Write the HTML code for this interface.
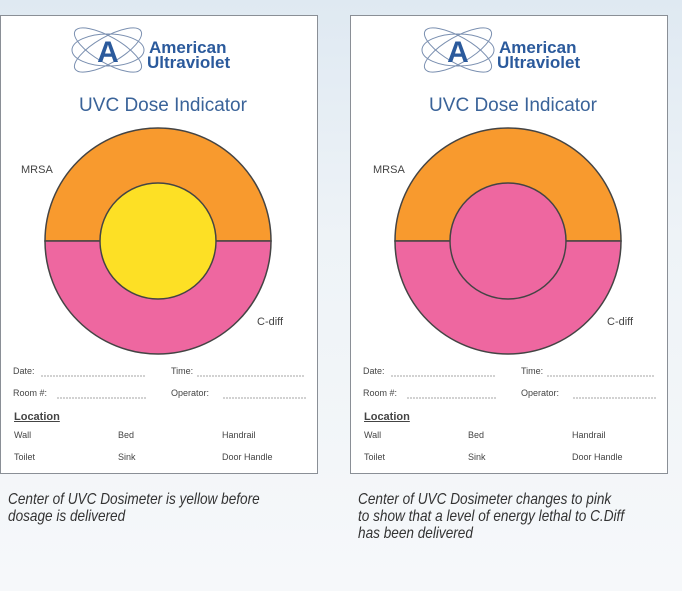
<!DOCTYPE html>
<html><head><meta charset="utf-8"><style>
body{margin:0;width:682px;height:591px;overflow:hidden;background:linear-gradient(#dfe9f2 0%,#eef3f7 40%,#f6f8fa 100%);font-family:"Liberation Sans",sans-serif;position:relative}
.card{position:absolute;top:15px;width:318px;height:459px;background:#fff;border:1px solid #8a8f96;box-sizing:border-box}
.t{position:absolute;font-size:9px;color:#444;white-space:nowrap}
.cap{position:absolute;top:491px;font-style:italic;font-size:16px;line-height:17px;color:#333;transform:scaleX(0.85);transform-origin:left top;white-space:nowrap}
</style></head><body>
<div id="c1" class="card" style="left:0"></div>
<div id="c2" class="card" style="left:350px"></div>
<div class="cap" style="left:8px">Center of UVC Dosimeter is yellow before<br>dosage is delivered</div>
<div class="cap" style="left:358px">Center of UVC Dosimeter changes to pink<br>to show that a level of energy lethal to C.Diff<br>has been delivered</div>
<script>
const centerColors=['#fde025','#ee67a0'];
const cards=['c1','c2'];
cards.forEach((id,i)=>{
const c=document.getElementById(id);
c.innerHTML=`
<svg width="318" height="459" style="position:absolute;left:0;top:0">
<g fill="none" stroke="#7a8fb0" stroke-width="1">
<ellipse cx="107" cy="34" rx="38" ry="13" transform="rotate(30 107 34)"/>
<ellipse cx="107" cy="34" rx="38" ry="13" transform="rotate(-30 107 34)"/>
<ellipse cx="107" cy="34" rx="36" ry="16"/>
</g>
<text x="107" y="46" font-size="30" font-weight="bold" fill="#2b5a9c" text-anchor="middle">A</text>
<text x="148" y="37" font-size="17" font-weight="bold" fill="#2b5a9c">American</text>
<text x="146" y="52" font-size="17" font-weight="bold" fill="#2b5a9c">Ultraviolet</text>
<text x="162" y="95" font-size="19" fill="#3a6399" text-anchor="middle">UVC Dose Indicator</text>
<path d="M${157-113},225 A113,113 0 0 1 ${157+113},225 Z" fill="#f89a2e" stroke="#444" stroke-width="1.5"/>
<path d="M${157-113},225 A113,113 0 0 0 ${157+113},225 Z" fill="#ee67a0" stroke="#444" stroke-width="1.5"/>
<circle cx="157" cy="225" r="58" fill="${centerColors[i]}" stroke="#444" stroke-width="1.5"/>
<text x="${i?22:20}" y="157" font-size="11" fill="#444">MRSA</text>
<text x="256" y="309" font-size="11" fill="#444">C-diff</text>
<g stroke="#888" stroke-dasharray="2,1" stroke-width="0.7">
<line x1="40" y1="360" x2="145" y2="360"/><line x1="196" y1="360" x2="303" y2="360"/>
<line x1="56" y1="382" x2="145" y2="382"/><line x1="222" y1="382" x2="305" y2="382"/>
</g>
</svg>
<div class="t" style="left:12px;top:350px">Date:</div>
<div class="t" style="left:170px;top:350px">Time:</div>
<div class="t" style="left:12px;top:372px">Room #:</div>
<div class="t" style="left:170px;top:372px">Operator:</div>
<div class="t" style="left:13px;top:395px;font-size:11px;font-weight:bold;text-decoration:underline">Location</div>
<div class="t" style="left:13px;top:414px">Wall</div>
<div class="t" style="left:117px;top:414px">Bed</div>
<div class="t" style="left:221px;top:414px">Handrail</div>
<div class="t" style="left:13px;top:436px">Toilet</div>
<div class="t" style="left:117px;top:436px">Sink</div>
<div class="t" style="left:221px;top:436px">Door Handle</div>`;
});
</script>
</body></html>
